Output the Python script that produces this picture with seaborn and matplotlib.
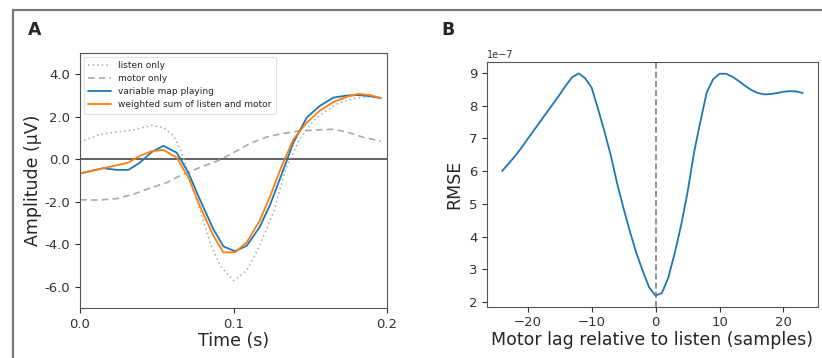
import numpy as np
import pandas as pd
import matplotlib
matplotlib.use("Agg")
import matplotlib.pyplot as plt
import seaborn as sns
from matplotlib.lines import Line2D

# ---------------- data: panel A ----------------
t_play = [0.0, 0.0152, 0.0239, 0.0315, 0.039, 0.0467, 0.0543, 0.063, 0.0706, 0.078,
          0.0869, 0.0934, 0.101, 0.1086, 0.117, 0.124, 0.131, 0.139, 0.1477, 0.156,
          0.165, 0.174, 0.181, 0.189, 0.196]
variable_map = [-0.67, -0.42, -0.50, -0.50, -0.16, 0.34, 0.63, 0.31, -0.63, -1.88,
                -3.29, -4.10, -4.33, -4.07, -3.20, -2.11, -0.78, 0.78, 1.96, 2.50,
                2.90, 3.00, 3.02, 2.97, 2.88]
weighted_sum = [-0.67, -0.42, -0.28, -0.16, 0.16, 0.38, 0.44, 0.08, -0.86, -2.19,
                -3.60, -4.38, -4.38, -3.91, -2.90, -1.72, -0.39, 0.94, 1.72, 2.27,
                2.69, 2.94, 3.07, 3.02, 2.88]

t_listen = [0.0, 0.013, 0.024, 0.035, 0.0467, 0.0543, 0.061, 0.0663, 0.0717, 0.078,
            0.0847, 0.0912, 0.100, 0.1086, 0.117, 0.126, 0.134, 0.143, 0.152, 0.160,
            0.169, 0.178, 0.187, 0.196]
listen_only = [0.81, 1.17, 1.28, 1.38, 1.60, 1.49, 1.10, 0.31, -0.94, -2.35,
               -3.91, -5.00, -5.71, -5.24, -4.07, -2.50, -0.47, 0.94, 1.80, 2.27,
               2.66, 2.85, 2.94, 2.88]

t_motor = [0.0, 0.013, 0.024, 0.035, 0.0467, 0.0565, 0.065, 0.078, 0.0912, 0.100,
           0.1109, 0.1217, 0.1326, 0.143, 0.154, 0.165, 0.174, 0.185, 0.196]
motor_only = [-1.91, -1.92, -1.85, -1.64, -1.33, -1.10, -0.78, -0.39, -0.03, 0.31,
              0.75, 1.05, 1.22, 1.33, 1.38, 1.41, 1.28, 1.02, 0.86]

a_yticks = [-6.0, -4.0, -2.0, 0.0, 2.0, 4.0]
a_xticks = [0.0, 0.1, 0.2]

# ---------------- data: panel B ----------------
lags = list(range(-24, 24))
rmse_e7 = [6.00, 6.22, 6.45, 6.70, 6.98, 7.25, 7.52, 7.79, 8.06, 8.33,
           8.62, 8.87, 8.98, 8.83, 8.55, 7.90, 7.22, 6.48, 5.62, 4.86,
           4.15, 3.50, 2.95, 2.45, 2.20, 2.28, 2.75, 3.50, 4.35, 5.35,
           6.55, 7.50, 8.40, 8.80, 8.97, 8.97, 8.88, 8.75, 8.60, 8.47,
           8.38, 8.34, 8.35, 8.38, 8.42, 8.44, 8.43, 8.38]
rmse = [v * 1e-7 for v in rmse_e7]

# ---------------- style ----------------
sns.set_style("ticks")
plt.rcParams["font.family"] = ["DejaVu Sans"]
plt.rcParams["axes.edgecolor"] = "#555555"
plt.rcParams["xtick.color"] = "#333333"
plt.rcParams["ytick.color"] = "#333333"

W, H = 822, 358
fig = plt.figure(figsize=(W / 100, H / 100), dpi=100)

blue = "#1f77b4"
orange = "#ff7f0e"

# ---------------- panel A ----------------
axA = fig.add_axes([80 / W, 1 - 308 / H, 307 / W, 255 / H])
axA.axhline(0, color="#555555", lw=1.3, zorder=1)
sns.lineplot(x=t_listen, y=listen_only, ax=axA, color="#aaaaaa", lw=1.1,
             linestyle=(0, (1, 2)), label="listen only")
sns.lineplot(x=t_motor, y=motor_only, ax=axA, color="#aaaaaa", lw=1.2,
             linestyle=(0, (4, 2.5)), label="motor only")
sns.lineplot(x=t_play, y=variable_map, ax=axA, color=blue, lw=1.3,
             label="variable map playing")
sns.lineplot(x=t_play, y=weighted_sum, ax=axA, color=orange, lw=1.3,
             label="weighted sum of listen and motor")
axA.set_xlim(0, 0.2)
axA.set_ylim(-7, 5)
axA.set_xticks(a_xticks)
axA.set_xticklabels([f"{v:.1f}" for v in a_xticks])
axA.set_yticks(a_yticks)
axA.set_yticklabels([f"{v:.1f}" for v in a_yticks])
axA.tick_params(labelsize=9.5, length=3.5, width=0.8)
axA.set_xlabel("Time (s)", fontsize=12.5, labelpad=1)
axA.set_ylabel("Amplitude (µV)", fontsize=12.5, labelpad=2)
leg = axA.legend(loc="upper left", fontsize=6.5, frameon=True, borderpad=0.5,
                 handlelength=2.5, labelspacing=0.45, borderaxespad=0.4)
leg.get_frame().set_edgecolor("#dddddd")
leg.get_frame().set_linewidth(0.8)

# ---------------- panel B ----------------
axB = fig.add_axes([487 / W, 1 - 306.7 / H, 330.7 / W, 244.4 / H])
sns.lineplot(x=lags, y=rmse, ax=axB, color=blue, lw=1.3)
axB.axvline(0, color="#777777", lw=1.1, linestyle=(0, (4, 2)))
axB.margins(x=0.05, y=0.05)
axB.set_yticks([v * 1e-7 for v in range(2, 10)])
axB.tick_params(labelsize=9.5, length=3.5, width=0.8)
axB.yaxis.get_offset_text().set_fontsize(7)
axB.set_xlabel("Motor lag relative to listen (samples)", fontsize=12.5, labelpad=1)
axB.set_ylabel("RMSE", fontsize=12.5, labelpad=4)

# panel letters
fig.text(28 / W, 1 - 30 / H, "A", fontsize=12.5, fontweight="bold", va="center")
fig.text(441 / W, 1 - 30 / H, "B", fontsize=12.5, fontweight="bold", va="center")

# gray frame lines
fig.add_artist(Line2D([13 / W, 1.0], [1 - 10 / H, 1 - 10 / H], color="#777777",
                      lw=1.6, transform=fig.transFigure))
fig.add_artist(Line2D([13 / W, 13 / W], [0, 1 - 10 / H], color="#777777",
                      lw=1.6, transform=fig.transFigure))

fig.savefig("out.png", dpi=100)
